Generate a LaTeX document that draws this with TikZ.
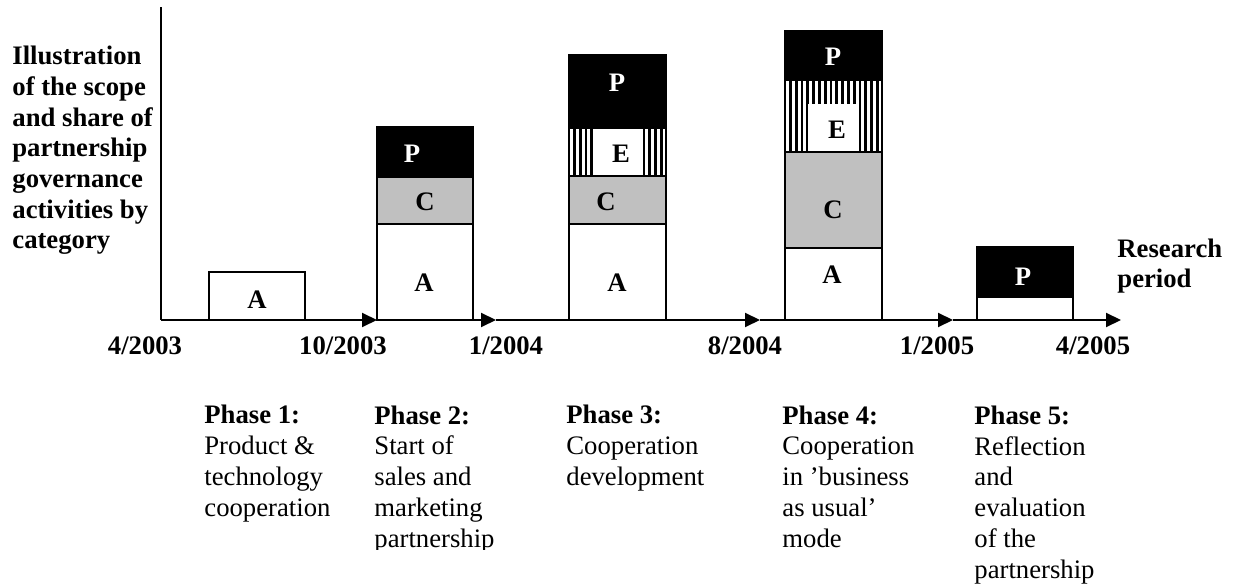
\documentclass[tikz,border=0pt]{standalone}
\usepackage{fontspec}
\setmainfont{Liberation Serif}
\usetikzlibrary{arrows.meta}

\begin{document}
\begin{tikzpicture}[x=0.5pt,y=-0.5pt,
  txt/.style={font=\fontsize{13.35}{15.35}\selectfont, inner sep=0pt},
  btxt/.style={txt, font=\fontsize{13.35}{15.35}\selectfont\bfseries},
  lbl/.style={btxt, anchor=center},
  wlbl/.style={lbl, text=white},
  axisline/.style={line width=1pt},
  tipline/.style={axisline, -{Triangle[length=7.5pt,width=7pt]}},
  seg/.style={draw=black, line width=1pt},
  % multi-line blocks are placed by the baseline of their last line
  phasetext/.style={txt, anchor=base west, align=left},
]
\definecolor{cgray}{HTML}{C0C0C0}
\useasboundingbox (0,0) rectangle (1236,587);

% axes
\coordinate (o) at (161,320);
\coordinate (ytop) at (161,7);
\coordinate (t1) at (377,320);
\coordinate (t2) at (496,320);
\coordinate (t3) at (760,320);
\coordinate (t4) at (953,320);
\coordinate (t5) at (1121,320);
\draw[axisline] (o) -- (ytop);
\draw[tipline] (o) -- (t1);
\draw[tipline] (t1) -- (t2);
\draw[tipline] (t2) -- (t3);
\draw[tipline] (t3) -- (t4);
\draw[tipline] (t4) -- (t5);

% phase 1
\filldraw[seg, fill=white] (209,272) rectangle (305,320);
\node[lbl] (a1) at (257,300) {A};

% phase 2
\filldraw[seg, fill=white] (377,224) rectangle (473,320);
\filldraw[seg, fill=cgray] (377,177) rectangle (473,224);
\filldraw[seg, fill=black] (377,127) rectangle (473,177);
\node[wlbl] (p2) at (412,154) {P};
\node[lbl] (c2) at (425,202) {C};
\node[lbl] (a2) at (424,283) {A};

% phase 3
\filldraw[seg, fill=white] (569,224) rectangle (666,320);
\filldraw[seg, fill=cgray] (569,176) rectangle (666,224);
\begin{scope}
  \clip (569,128) rectangle (666,176);
  \fill[white] (569,128) rectangle (666,176);
  \foreach \sx in {573,578.8,...,668} \fill[black] (\sx,128) rectangle ++(2.8,48);
\end{scope}
\fill[white] (593,128) rectangle (642,176);
\draw[seg] (569,128) rectangle (666,176);
\filldraw[seg, fill=black] (569,55) rectangle (666,128);
\node[wlbl] (p3) at (617,83) {P};
\node[lbl] (e3) at (621,154) {E};
\node[lbl] (c3) at (606,202) {C};
\node[lbl] (a3) at (617,283) {A};

% phase 4
\filldraw[seg, fill=white] (785,248) rectangle (882,320);
\filldraw[seg, fill=cgray] (785,152) rectangle (882,248);
\begin{scope}
  \clip (785,80) rectangle (882,152);
  \fill[white] (785,80) rectangle (882,152);
  \foreach \sx in {789,794.8,...,884} \fill[black] (\sx,80) rectangle ++(2.8,72);
\end{scope}
\fill[white] (808,104) rectangle (858,152);
\draw[seg] (785,80) rectangle (882,152);
\filldraw[seg, fill=black] (785,31) rectangle (882,80);
\node[wlbl] (p4) at (833,57) {P};
\node[lbl] (e4) at (837,130) {E};
\node[lbl] (c4) at (833,210) {C};
\node[lbl] (a4) at (832,275) {A};

% phase 5
\filldraw[seg, fill=white] (977,297) rectangle (1073,320);
\filldraw[seg, fill=black] (977,247) rectangle (1073,297);
\node[wlbl] (p5) at (1023,277) {P};

% axis titles
\node[btxt, anchor=base west, align=left] (ylab) at (12,249)
  {Illustration\\of the scope\\and share of\\partnership\\governance\\activities by\\category};
\node[btxt, anchor=base west, align=left] (xlab) at (1117,288) {Research\\period};

% dates
\node[btxt, anchor=base] (d1) at (145,355) {4/2003};
\node[btxt, anchor=base] (d2) at (343,355) {10/2003};
\node[btxt, anchor=base] (d3) at (506,355) {1/2004};
\node[btxt, anchor=base] (d4) at (745,355) {8/2004};
\node[btxt, anchor=base] (d5) at (937,355) {1/2005};
\node[btxt, anchor=base] (d6) at (1093,355) {4/2005};

% phase descriptions
\node[phasetext] (ph1) at (204,516)
  {\textbf{Phase 1:}\\Product \&\\technology\\cooperation};
\begin{scope}
  \clip (360,390) rectangle (560,549);
  \node[phasetext] (ph2) at (374,547)
    {\textbf{Phase 2:}\\Start of\\sales and\\marketing\\partnership};
\end{scope}
\node[phasetext] (ph3) at (566,485)
  {\textbf{Phase 3:}\\Cooperation\\development};
\node[phasetext] (ph4) at (782,547)
  {\textbf{Phase 4:}\\Cooperation\\in ’business\\as usual’\\mode};
\node[phasetext] (ph5) at (974,578)
  {\textbf{Phase 5:}\\Reflection\\and\\evaluation\\of the\\partnership};
\end{tikzpicture}
\end{document}
